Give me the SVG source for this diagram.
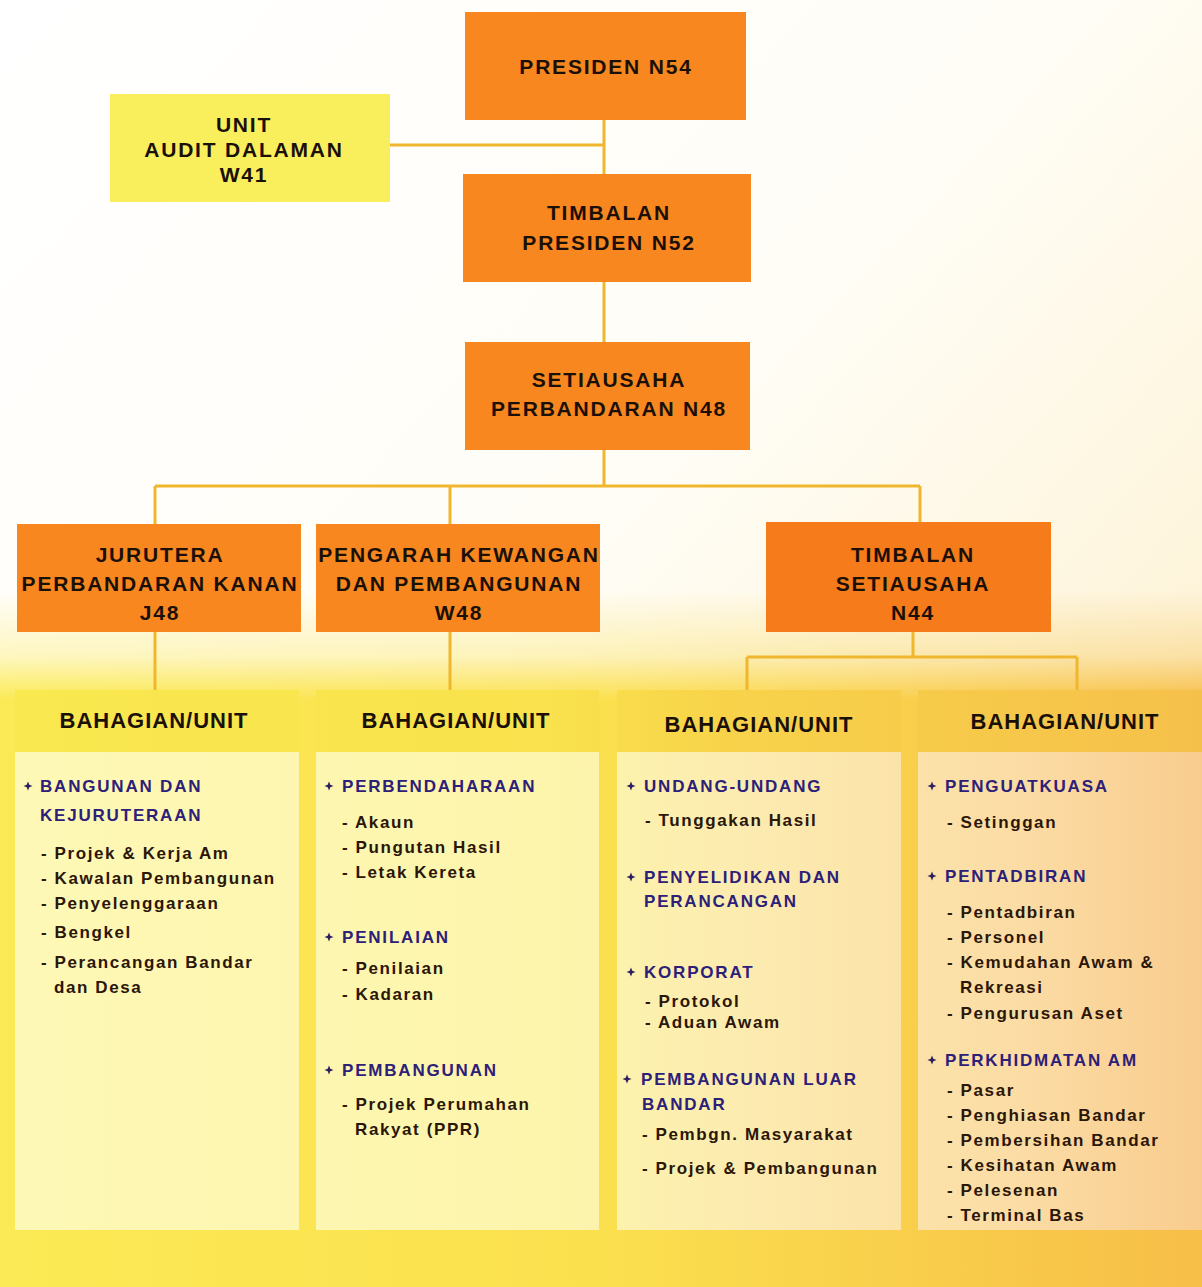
<svg xmlns="http://www.w3.org/2000/svg" width="1202" height="1287" viewBox="0 0 1202 1287">
<defs>
<linearGradient id="bg" x1="0" y1="0" x2="1" y2="1">
<stop offset="0" stop-color="#ffffff"/>
<stop offset="0.45" stop-color="#fffdf6"/>
<stop offset="1" stop-color="#fcecc0"/>
</linearGradient>
<linearGradient id="low" x1="0" y1="0" x2="1202" y2="0" gradientUnits="userSpaceOnUse">
<stop offset="0" stop-color="#fbea55"/>
<stop offset="0.5" stop-color="#fbe04e"/>
<stop offset="1" stop-color="#f7be48"/>
</linearGradient>
<linearGradient id="fadeg" x1="0" y1="590" x2="0" y2="700" gradientUnits="userSpaceOnUse">
<stop offset="0" stop-color="#fff" stop-opacity="0"/>
<stop offset="0.6" stop-color="#fff" stop-opacity="0.35"/>
<stop offset="1" stop-color="#fff" stop-opacity="1"/>
</linearGradient>
<mask id="fadem" maskUnits="userSpaceOnUse" x="0" y="0" width="1202" height="1287">
<rect x="0" y="590" width="1202" height="697" fill="url(#fadeg)"/>
</mask>
<linearGradient id="panel" x1="15" y1="0" x2="1202" y2="0" gradientUnits="userSpaceOnUse">
<stop offset="0" stop-color="#fef8b6"/>
<stop offset="0.45" stop-color="#fdf5ac"/>
<stop offset="0.62" stop-color="#fcebb0"/>
<stop offset="0.85" stop-color="#fbdca4"/>
<stop offset="1" stop-color="#f9cc8e"/>
</linearGradient>
<linearGradient id="head" x1="15" y1="0" x2="1202" y2="0" gradientUnits="userSpaceOnUse">
<stop offset="0" stop-color="#f9e84f"/>
<stop offset="0.45" stop-color="#f9e24d"/>
<stop offset="0.6" stop-color="#f8d34a"/>
<stop offset="1" stop-color="#f5c04a"/>
</linearGradient>
<path id="bul" d="M0,-4.5 L1.3,-1.3 L4.5,0 L1.3,1.3 L0,4.5 L-1.3,1.3 L-4.5,0 L-1.3,-1.3 Z"/>
</defs>
<style>
.box{fill:#f8871f}
.box2{fill:#f57b1b}
.audit{fill:#f9ef5c}
.bt{font-family:"Liberation Sans",Arial,sans-serif;font-weight:bold;font-size:21px;letter-spacing:1.8px;fill:#1b1008;text-anchor:middle}
.ht{font-family:"Liberation Sans",Arial,sans-serif;font-weight:bold;font-size:22px;letter-spacing:1px;fill:#1b1008;text-anchor:middle}
.hd{font-family:"Liberation Sans",Arial,sans-serif;font-weight:bold;font-size:17px;letter-spacing:1.8px;fill:#2c2078}
.it{font-family:"Liberation Sans",Arial,sans-serif;font-weight:bold;font-size:17px;letter-spacing:1.6px;fill:#2b1608}
.ln{stroke:#f0b72e;stroke-width:3;fill:none}
.bu{fill:#2c2060}
</style>
<rect width="1202" height="1287" fill="url(#bg)"/>
<rect x="0" y="590" width="1202" height="697" fill="url(#low)" mask="url(#fadem)"/>

<g id="connectors">
<path class="ln" d="M390,145 H604 M604,120 V174 M604,282 V342 M604,450 V486 M155,486 H920 M155,486 V524 M450,486 V524 M920,486 V522 M155,632 V690 M450,632 V690 M913,632 V657 M747,657 H1077 M747,657 V690 M1077,657 V690"/>
</g>

<g id="presiden">
<rect class="box" x="465" y="12" width="281" height="108"/>
<text class="bt" x="606" y="74">PRESIDEN N54</text>
</g>
<g id="audit">
<rect class="audit" x="110" y="94" width="280" height="108"/>
<text class="bt" x="244" y="132">UNIT</text>
<text class="bt" x="244" y="157">AUDIT DALAMAN</text>
<text class="bt" x="244" y="182">W41</text>
</g>
<g id="timbalan-presiden">
<rect class="box" x="463" y="174" width="288" height="108"/>
<text class="bt" x="609" y="220">TIMBALAN</text>
<text class="bt" x="609" y="250">PRESIDEN N52</text>
</g>
<g id="setiausaha">
<rect class="box" x="465" y="342" width="285" height="108"/>
<text class="bt" x="609" y="387">SETIAUSAHA</text>
<text class="bt" x="609" y="416">PERBANDARAN N48</text>
</g>
<g id="jurutera">
<rect class="box" x="17" y="524" width="284" height="108"/>
<text class="bt" x="160" y="562">JURUTERA</text>
<text class="bt" x="160" y="591">PERBANDARAN KANAN</text>
<text class="bt" x="160" y="620">J48</text>
</g>
<g id="pengarah">
<rect class="box" x="316" y="524" width="284" height="108"/>
<text class="bt" x="459" y="562">PENGARAH KEWANGAN</text>
<text class="bt" x="459" y="591">DAN PEMBANGUNAN</text>
<text class="bt" x="459" y="620">W48</text>
</g>
<g id="timbalan-setiausaha">
<rect class="box2" x="766" y="522" width="285" height="110"/>
<text class="bt" x="913" y="562">TIMBALAN</text>
<text class="bt" x="913" y="591">SETIAUSAHA</text>
<text class="bt" x="913" y="620">N44</text>
</g>

<g id="col1">
<rect x="15" y="752" width="284" height="478" fill="url(#panel)"/>
<rect x="15" y="690" width="284" height="62" fill="url(#head)"/>
<text class="ht" x="154" y="728">BAHAGIAN/UNIT</text>
<use href="#bul" x="28" y="786" class="bu"/>
<text class="hd" x="40" y="792">BANGUNAN DAN</text>
<text class="hd" x="40" y="821">KEJURUTERAAN</text>
<text class="it" x="41" y="859">- Projek &amp; Kerja Am</text>
<text class="it" x="41" y="884">- Kawalan Pembangunan</text>
<text class="it" x="41" y="909">- Penyelenggaraan</text>
<text class="it" x="41" y="938">- Bengkel</text>
<text class="it" x="41" y="968">- Perancangan Bandar</text>
<text class="it" x="54" y="993">dan Desa</text>
</g>
<g id="col2">
<rect x="316" y="752" width="283" height="478" fill="url(#panel)"/>
<rect x="316" y="690" width="283" height="62" fill="url(#head)"/>
<text class="ht" x="456" y="728">BAHAGIAN/UNIT</text>
<use href="#bul" x="329" y="786" class="bu"/>
<text class="hd" x="342" y="792">PERBENDAHARAAN</text>
<text class="it" x="342" y="828">- Akaun</text>
<text class="it" x="342" y="853">- Pungutan Hasil</text>
<text class="it" x="342" y="878">- Letak Kereta</text>
<use href="#bul" x="329" y="937" class="bu"/>
<text class="hd" x="342" y="943">PENILAIAN</text>
<text class="it" x="342" y="974">- Penilaian</text>
<text class="it" x="342" y="1000">- Kadaran</text>
<use href="#bul" x="329" y="1070" class="bu"/>
<text class="hd" x="342" y="1076">PEMBANGUNAN</text>
<text class="it" x="342" y="1110">- Projek Perumahan</text>
<text class="it" x="355" y="1135">Rakyat (PPR)</text>
</g>
<g id="col3">
<rect x="617" y="752" width="284" height="478" fill="url(#panel)"/>
<rect x="617" y="690" width="284" height="62" fill="url(#head)"/>
<text class="ht" x="759" y="732">BAHAGIAN/UNIT</text>
<use href="#bul" x="631" y="786" class="bu"/>
<text class="hd" x="644" y="792">UNDANG-UNDANG</text>
<text class="it" x="645" y="826">- Tunggakan Hasil</text>
<use href="#bul" x="631" y="877" class="bu"/>
<text class="hd" x="644" y="883">PENYELIDIKAN DAN</text>
<text class="hd" x="644" y="907">PERANCANGAN</text>
<use href="#bul" x="631" y="972" class="bu"/>
<text class="hd" x="644" y="978">KORPORAT</text>
<text class="it" x="645" y="1007">- Protokol</text>
<text class="it" x="645" y="1028">- Aduan Awam</text>
<use href="#bul" x="627" y="1079" class="bu"/>
<text class="hd" x="641" y="1085">PEMBANGUNAN LUAR</text>
<text class="hd" x="642" y="1110">BANDAR</text>
<text class="it" x="642" y="1140">- Pembgn. Masyarakat</text>
<text class="it" x="642" y="1174">- Projek &amp; Pembangunan</text>
</g>
<g id="col4">
<rect x="918" y="752" width="284" height="478" fill="url(#panel)"/>
<rect x="918" y="690" width="284" height="62" fill="url(#head)"/>
<text class="ht" x="1065" y="729">BAHAGIAN/UNIT</text>
<use href="#bul" x="932" y="786" class="bu"/>
<text class="hd" x="945" y="792">PENGUATKUASA</text>
<text class="it" x="947" y="828">- Setinggan</text>
<use href="#bul" x="932" y="876" class="bu"/>
<text class="hd" x="945" y="882">PENTADBIRAN</text>
<text class="it" x="947" y="918">- Pentadbiran</text>
<text class="it" x="947" y="943">- Personel</text>
<text class="it" x="947" y="968">- Kemudahan Awam &amp;</text>
<text class="it" x="960" y="993">Rekreasi</text>
<text class="it" x="947" y="1019">- Pengurusan Aset</text>
<use href="#bul" x="932" y="1060" class="bu"/>
<text class="hd" x="945" y="1066">PERKHIDMATAN AM</text>
<text class="it" x="947" y="1096">- Pasar</text>
<text class="it" x="947" y="1121">- Penghiasan Bandar</text>
<text class="it" x="947" y="1146">- Pembersihan Bandar</text>
<text class="it" x="947" y="1171">- Kesihatan Awam</text>
<text class="it" x="947" y="1196">- Pelesenan</text>
<text class="it" x="947" y="1221">- Terminal Bas</text>
</g>
</svg>
